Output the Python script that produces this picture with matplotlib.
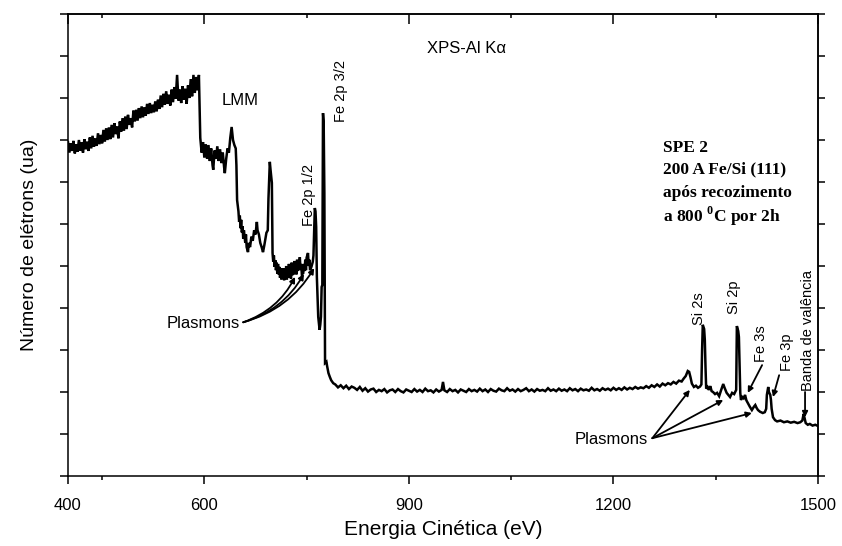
import matplotlib
matplotlib.use("Agg")
import matplotlib.pyplot as plt

# ---------------- data ----------------
energy_lmm = [400, 402, 404, 406, 408, 410, 412, 414, 416, 418, 420, 422, 424, 426, 428, 430,
              432, 434, 436, 438, 440, 442, 444, 446, 448, 450, 452, 454, 456, 458, 460, 462,
              464, 466, 468, 470, 472, 474, 476, 478, 480, 482, 484, 486, 488, 490, 492, 494,
              496, 498, 500, 502, 504, 506, 508, 510, 512, 514, 516, 518, 520, 522, 524, 526,
              528, 530, 532, 534, 536, 538, 540, 542, 544, 546, 548, 550, 552, 554, 556, 558,
              560, 562, 564, 566, 568, 570, 572, 574, 576, 578, 580, 582, 584, 586, 588, 590, 592]
counts_lmm = [7.95, 7.70, 7.92, 7.74, 7.98, 7.68, 7.90, 7.72, 8.00, 7.75, 7.94, 7.70, 8.02, 7.78, 7.96, 7.74,
              8.06, 7.80, 8.10, 7.84, 8.04, 7.86, 8.16, 7.90, 8.12, 7.92, 8.24, 7.96, 8.28, 8.00, 8.30, 8.02,
              8.36, 8.06, 8.40, 8.14, 8.32, 8.04, 8.44, 8.20, 8.52, 8.22, 8.56, 8.26, 8.60, 8.36, 8.52, 8.30,
              8.70, 8.44, 8.72, 8.46, 8.76, 8.52, 8.80, 8.54, 8.78, 8.58, 8.86, 8.62, 8.88, 8.64, 8.84, 8.66,
              8.92, 8.68, 8.96, 8.74, 9.06, 8.78, 9.10, 8.84, 9.16, 8.86, 9.08, 8.82, 9.20, 8.90, 9.26, 8.98,
              9.55, 8.94, 9.20, 8.88, 9.28, 8.96, 9.22, 8.86, 9.30, 9.00, 9.45, 9.04, 9.55, 9.12, 9.50, 9.18, 9.55]

energy_fe = [594, 596, 598, 600, 602, 604, 606, 608, 610, 612, 613, 615, 617, 619, 621, 623, 625, 627,
             629, 630, 632, 634, 636, 638, 640, 642, 644, 646, 647, 648, 650, 651, 652, 653, 654, 655,
             656, 657, 658, 660, 661, 662, 664, 665, 667, 669, 671, 673, 675, 677, 678, 680, 682, 684,
             686, 688, 690, 691, 693, 694, 696, 697, 699, 700, 701, 702, 703, 704, 705, 706, 707, 708,
             709, 710, 711, 712, 713, 714, 715, 716, 717, 718, 719, 720, 721, 722, 723, 724, 725, 726,
             727, 728, 729, 730, 731, 732, 733, 734, 735, 736, 737, 738, 739, 740, 741, 742, 743, 745,
             746, 747, 748, 749, 750, 752, 753, 754, 755, 757, 759, 760, 762, 763, 764, 765, 767, 769,
             770, 771, 772, 773, 774, 775, 776, 777, 779, 780, 782, 784, 786, 789]
counts_fe = [8.05, 7.70, 7.95, 7.58, 7.90, 7.55, 7.88, 7.50, 7.80, 7.40, 7.29, 7.75, 7.55, 7.85, 7.50, 7.78, 7.45, 7.70,
             7.35, 7.21, 7.55, 7.80, 7.70, 8.05, 8.31, 8.00, 7.88, 7.80, 7.40, 6.57, 6.30, 6.05, 6.20, 5.90, 6.10, 5.80,
             5.95, 5.65, 5.85, 5.55, 5.75, 5.45, 5.33, 5.55, 5.45, 5.70, 5.60, 5.85, 5.75, 6.05, 5.85, 5.75, 5.55, 5.45,
             5.33, 5.50, 5.70, 5.79, 5.85, 6.60, 7.48, 7.30, 6.98, 5.31, 5.10, 5.25, 4.98, 5.14, 4.90, 5.08, 4.82, 5.05,
             4.80, 4.98, 4.72, 4.95, 4.68, 4.90, 4.70, 4.95, 4.66, 4.90, 4.70, 5.00, 4.68, 4.95, 4.72, 5.05, 4.75, 4.98,
             4.70, 5.08, 4.78, 5.02, 4.80, 5.12, 4.84, 5.05, 4.80, 5.15, 4.88, 5.10, 4.90, 5.21, 4.92, 5.05, 4.80, 4.83,
             5.05, 4.88, 5.15, 4.90, 5.20, 5.31, 5.00, 5.15, 4.90, 4.98, 5.10, 5.25, 6.38, 6.30, 5.93, 4.74, 3.79, 3.48,
             3.60, 3.79, 4.50, 4.55, 8.64, 8.40, 6.74, 2.69, 2.72, 2.62, 2.45, 2.36, 2.28, 2.21]

energy_flat = [792, 796, 800, 804, 808, 812, 816, 820, 824, 828, 832, 836, 840, 844, 848, 852, 856, 860,
               864, 868, 872, 876, 880, 884, 888, 892, 896, 900, 904, 908, 912, 916, 920, 924, 928, 932,
               936, 940, 944, 948, 950, 952, 956, 960, 964, 968, 972, 976, 980, 984, 988, 992, 996, 1000,
               1004, 1008, 1012, 1016, 1020, 1024, 1028, 1032, 1036, 1040, 1044, 1048, 1052, 1056, 1060,
               1064, 1068, 1072, 1076, 1080, 1084, 1088, 1092, 1096, 1100, 1104, 1108, 1112, 1116, 1120,
               1124, 1128, 1132, 1136, 1140, 1144, 1148, 1152, 1156, 1160, 1164, 1168, 1172, 1176, 1180,
               1184, 1188, 1192, 1196, 1200, 1204, 1208, 1212, 1216, 1220, 1224, 1228, 1232, 1236, 1240,
               1244, 1248, 1252, 1256, 1260, 1264, 1268, 1272, 1276, 1280, 1284, 1288, 1292, 1296, 1300]
counts_flat = [2.18, 2.11, 2.16, 2.09, 2.15, 2.07, 2.13, 2.10, 2.05, 2.12, 2.03, 2.09, 2.01, 2.06, 2.08, 2.00, 2.05, 2.02,
               2.07, 1.99, 2.04, 2.06, 2.00, 2.07, 2.02, 1.99, 2.06, 2.03, 2.00, 2.07, 2.01, 2.05, 2.00, 2.08, 2.02, 2.04,
               1.99, 2.06, 2.01, 2.05, 2.24, 2.04, 2.00, 2.07, 2.02, 2.05, 1.99, 2.06, 2.03, 2.00, 2.07, 2.02, 2.05, 2.01,
               2.08, 2.02, 2.06, 2.00, 2.07, 2.03, 2.01, 2.08, 2.04, 2.02, 2.09, 2.03, 2.06, 2.01, 2.07,
               2.02, 2.05, 2.09, 2.02, 2.06, 2.01, 2.07, 2.03, 2.05, 2.02, 2.09, 2.03, 2.06, 2.02, 2.08,
               2.03, 2.06, 2.02, 2.09, 2.04, 2.07, 2.02, 2.08, 2.04, 2.06, 2.03, 2.10, 2.04, 2.07, 2.03,
               2.09, 2.05, 2.08, 2.04, 2.10, 2.05, 2.09, 2.05, 2.11, 2.06, 2.10, 2.07, 2.12, 2.08, 2.11,
               2.09, 2.14, 2.10, 2.16, 2.12, 2.18, 2.13, 2.20, 2.16, 2.21, 2.18, 2.24, 2.20, 2.27, 2.25]

energy_si = [1303, 1306, 1309, 1311, 1313, 1315, 1318, 1321, 1324, 1327, 1329, 1330, 1331, 1333, 1334,
             1335, 1336, 1338, 1340, 1342, 1344, 1346, 1349, 1352, 1355, 1358, 1361, 1363, 1366, 1369,
             1371, 1374, 1377, 1380, 1381, 1383, 1384, 1385, 1386, 1387, 1389, 1391, 1393, 1395, 1397,
             1400, 1403, 1406, 1408, 1410, 1412, 1415, 1419, 1422, 1424, 1425, 1427, 1428, 1430, 1431,
             1432, 1434, 1437, 1440, 1445, 1450, 1455, 1460, 1465, 1470, 1474, 1477, 1479, 1480, 1482,
             1485, 1488, 1492, 1496, 1500]
counts_si = [2.32, 2.38, 2.50, 2.48, 2.35, 2.20, 2.12, 2.15, 2.10, 2.13, 2.18, 3.00, 3.60, 3.50, 3.24,
             2.60, 2.08, 2.12, 2.05, 2.14, 2.02, 2.00, 1.95, 1.98, 1.90, 2.05, 2.19, 2.10, 1.98, 1.92,
             1.88, 1.98, 1.95, 2.05, 3.57, 3.45, 3.31, 2.60, 1.98, 1.81, 1.88, 1.85, 1.93, 1.80, 1.74,
             1.65, 1.57, 1.65, 1.69, 1.62, 1.57, 1.53, 1.50, 1.52, 1.60, 1.93, 2.12, 2.00, 1.93, 1.81,
             1.60, 1.40, 1.33, 1.30, 1.32, 1.28, 1.30, 1.27, 1.29, 1.26, 1.28, 1.32, 1.48, 1.40, 1.26,
             1.22, 1.24, 1.20, 1.22, 1.19]

x_major = [400, 600, 900, 1200, 1500]
x_minor = [450, 750, 1050, 1350]
y_ticks = list(range(0, 12))

# ---------------- figure ----------------
plt.rcParams['font.family'] = ['Liberation Sans', 'DejaVu Sans']
plt.rcParams['mathtext.fontset'] = 'custom'
plt.rcParams['mathtext.bf'] = 'Liberation Serif:bold'
plt.rcParams['mathtext.rm'] = 'Liberation Serif:bold'

fig = plt.figure(figsize=(8.42, 5.46), dpi=100)
ax = fig.add_axes([68 / 842, 1 - 476 / 546, 750 / 842, 462 / 546])

energy = energy_lmm + energy_fe + energy_flat + energy_si
counts = counts_lmm + counts_fe + counts_flat + counts_si
ax.plot(energy, counts, color='black', lw=1.8, solid_joinstyle='miter')

ax.set_xlim(400, 1500)
ax.set_ylim(0, 11)

for s in ax.spines.values():
    s.set_linewidth(1.1)

ax.set_xticks(x_major)
ax.set_xticks(x_minor, minor=True)
ax.set_yticks(y_ticks)
ax.set_yticklabels([])
ax.tick_params(axis='x', which='major', direction='out', length=6, width=1.1, labelsize=12, pad=10)
ax.tick_params(axis='x', which='minor', direction='out', length=3, width=1.1)
ax.tick_params(axis='y', which='major', direction='out', length=6, width=1.1)

top = ax.secondary_xaxis('top')
top.set_xticks(x_major)
top.set_xticks(x_minor, minor=True)
top.tick_params(axis='x', which='major', direction='in', length=7, width=1.1, labeltop=False)
top.tick_params(axis='x', which='minor', direction='in', length=3, width=1.1)
top.spines['top'].set_linewidth(1.1)

right = ax.secondary_yaxis('right')
right.set_yticks(y_ticks)
right.tick_params(axis='y', direction='out', length=5, width=1.1, labelright=False)
right.spines['right'].set_linewidth(1.1)

ax.set_xlabel('Energia Cinética (eV)', fontsize=15, labelpad=5)
ax.set_ylabel('Número de elétrons (ua)', fontsize=14, labelpad=12)

# ---------------- annotations ----------------
ax.text(985, 10.17, 'XPS-Al K\u03b1', fontsize=12, ha='center', va='center')
ax.text(652, 8.95, 'LMM', fontsize=12, ha='center', va='center')
ax.text(800, 8.43, 'Fe 2p 3/2', fontsize=10.5, rotation=90, ha='center', va='bottom')
ax.text(753, 5.95, 'Fe 2p 1/2', fontsize=10.5, rotation=90, ha='center', va='bottom')
ax.text(1325, 3.60, 'Si 2s', fontsize=10.5, rotation=90, ha='center', va='bottom')
ax.text(1377, 3.85, 'Si 2p', fontsize=10.5, rotation=90, ha='center', va='bottom')
ax.text(1416, 2.72, 'Fe 3s', fontsize=10.5, rotation=90, ha='center', va='bottom')
ax.text(1455, 2.50, 'Fe 3p', fontsize=10.5, rotation=90, ha='center', va='bottom')
ax.text(1485, 2.02, 'Banda de valência', fontsize=10.5, rotation=90, ha='center', va='bottom')

arrow_kw = dict(arrowstyle='-|>', color='black', lw=1.3, mutation_scale=8,
                shrinkA=0, shrinkB=0)
ax.annotate('', xy=(1397, 1.98), xytext=(1418, 2.64), arrowprops=arrow_kw)
ax.annotate('', xy=(1434, 1.88), xytext=(1443, 2.40), arrowprops=arrow_kw)
ax.annotate('', xy=(1481, 1.40), xytext=(1481, 2.00), arrowprops=arrow_kw)

# left plasmons
ax.text(652, 3.64, 'Plasmons', fontsize=12, ha='right', va='center')
for tx, ty in [(733, 4.74), (746, 4.81), (761, 4.95)]:
    ax.annotate('', xy=(tx, ty), xytext=(657, 3.66),
                arrowprops=dict(arrow_kw, connectionstyle='arc3,rad=0.2'))

# right plasmons
ax.text(1251, 0.86, 'Plasmons', fontsize=12, ha='right', va='center')
for tx, ty in [(1312, 2.05), (1361, 1.81), (1403, 1.50)]:
    ax.annotate('', xy=(tx, ty), xytext=(1257, 0.90), arrowprops=arrow_kw)

sample_lines = ['SPE 2', '200 A Fe/Si (111)', 'após recozimento', r'a 800 $^{0}$C por 2h']
sample_y = [7.81, 7.29, 6.74, 6.19]
for line, yy in zip(sample_lines, sample_y):
    ax.text(1273, yy, line, fontsize=12.5, fontweight='bold',
            family='Liberation Serif', ha='left', va='center')

fig.savefig('out.png', dpi=100)
